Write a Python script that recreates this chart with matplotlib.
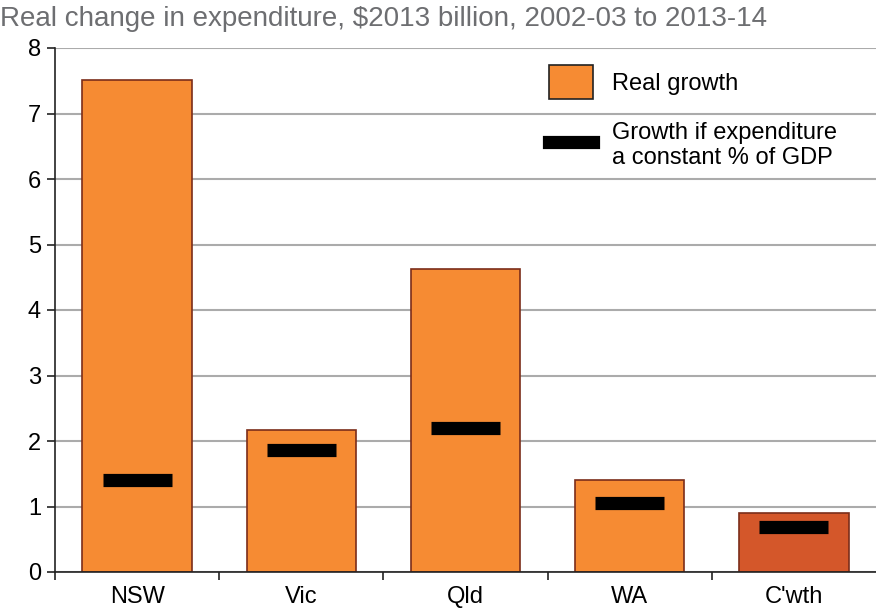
import matplotlib.pyplot as plt
from matplotlib.patches import Patch
from matplotlib.lines import Line2D

plt.rcParams['font.family'] = ['Liberation Sans', 'DejaVu Sans']

categories = ['NSW', 'Vic', 'Qld', 'WA', "C'wth"]
real_growth = [7.51, 2.17, 4.63, 1.40, 0.90]
gdp_growth = [1.40, 1.86, 2.20, 1.05, 0.69]
bar_colors = ['#F68B33', '#F68B33', '#F68B33', '#F68B33', '#D4572A']

fig = plt.figure(figsize=(8.76, 6.12), dpi=100)
ax = fig.add_axes([55/876, 40/612, 821/876, 524/612])

x = range(len(categories))
ax.bar(x, real_growth, width=0.667, color=bar_colors, edgecolor='#7B2D1A',
       linewidth=1.2, zorder=2)
ax.hlines(gdp_growth, [i - 0.21 for i in x], [i + 0.21 for i in x],
          colors='black', linewidth=9.5, zorder=3)

ax.set_xlim(-0.5, 4.5)
ax.set_ylim(0, 8)
ax.set_yticks(range(0, 9))
ax.set_xticks(x)
ax.set_xticklabels(categories)
ax.set_xticks([i - 0.5 for i in range(len(categories))], minor=True)
ax.tick_params(axis='x', which='major', length=0, labelsize=17, pad=10)
ax.tick_params(axis='x', which='minor', length=6, width=1.2, color='#222222')
ax.tick_params(axis='y', length=6, width=1.2, color='#222222', labelsize=17, pad=4)

ax.grid(axis='y', color='#ABABAB', linewidth=1.5, zorder=0)
ax.set_axisbelow(True)
ax.spines['top'].set_visible(False)
ax.spines['right'].set_visible(False)
ax.spines['left'].set_color('#222222')
ax.spines['bottom'].set_color('#222222')
ax.spines['left'].set_linewidth(1.2)
ax.spines['bottom'].set_linewidth(1.2)

handles = [Patch(facecolor='#F68B33', edgecolor='#222222', linewidth=1.2),
           Line2D([0], [0], color='black', linewidth=9.5)]
labels = ['Real growth', 'Growth if expenditure\na constant % of GDP']
ax.legend(handles, labels, loc='upper left', bbox_to_anchor=(0.576, 1.008),
          frameon=False, fontsize=17, handlelength=1.85, handleheight=1.85,
          labelspacing=0.95, handletextpad=0.8)

fig.text(0.0, 0.99, 'Real change in expenditure, $2013 billion, 2002-03 to 2013-14',
         ha='left', va='top', fontsize=20, color='#6D6E71')

fig.savefig('out.png', dpi=100)
